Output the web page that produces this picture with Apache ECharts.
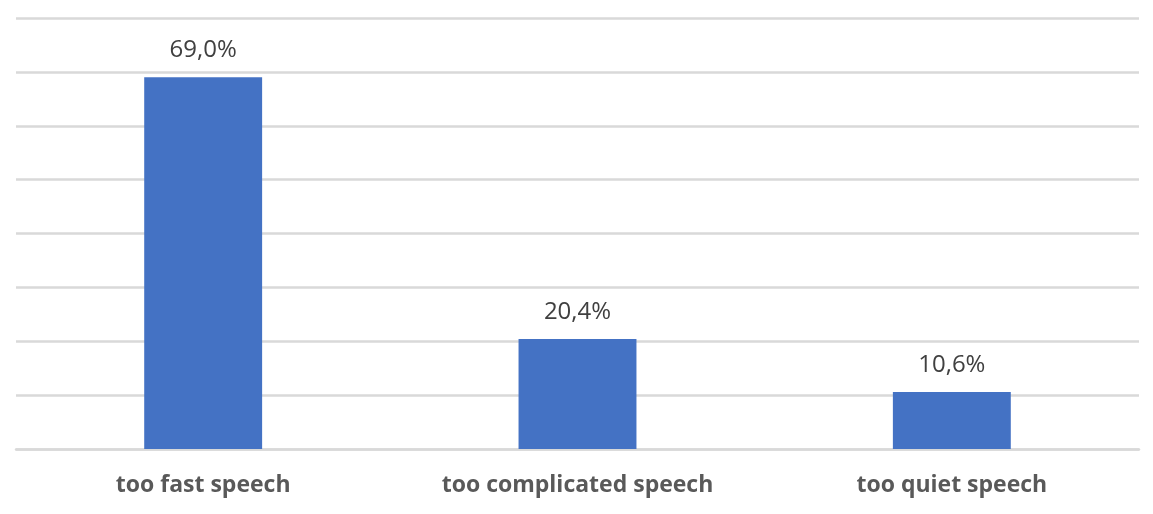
<!DOCTYPE html>
<html><head><meta charset="utf-8">
<script src="https://cdn.jsdelivr.net/npm/echarts@6/dist/echarts.min.js"></script>
<style>html,body{margin:0;padding:0;background:#fff}#c{width:1153px;height:514px}</style>
</head><body><div id="c"></div>
<script>
const categories = ['too fast speech', 'too complicated speech', 'too quiet speech'];
const values = [69.0, 20.4, 10.6];
const yTicks = { min: 0, max: 80, interval: 10 };

const chart = echarts.init(document.getElementById('c'));
chart.setOption({
  animation: false,
  grid: { left: 16, right: 14, top: 18, bottom: 65, containLabel: false },
  xAxis: {
    type: 'category', data: categories,
    axisLine: { show: true, lineStyle: { color: '#d9d9d9', width: 2.5 } },
    axisTick: { show: false },
    axisLabel: { color: '#595959', fontFamily: 'Open Sans', fontWeight: 'bold', fontSize: 23, margin: 25 }
  },
  yAxis: {
    type: 'value', min: yTicks.min, max: yTicks.max, interval: yTicks.interval,
    axisLabel: { show: false }, axisLine: { show: false }, axisTick: { show: false },
    splitLine: { lineStyle: { color: '#d9d9d9', width: 2.5 } }
  },
  series: [{
    type: 'bar', data: values, barWidth: '31.5%',
    itemStyle: { color: '#4472C4' },
    label: {
      show: true, position: 'top', distance: 15,
      color: '#404040', fontFamily: 'Open Sans', fontSize: 24,
      formatter: p => p.value.toFixed(1).replace('.', ',') + '%'
    }
  }]
});
</script></body></html>
